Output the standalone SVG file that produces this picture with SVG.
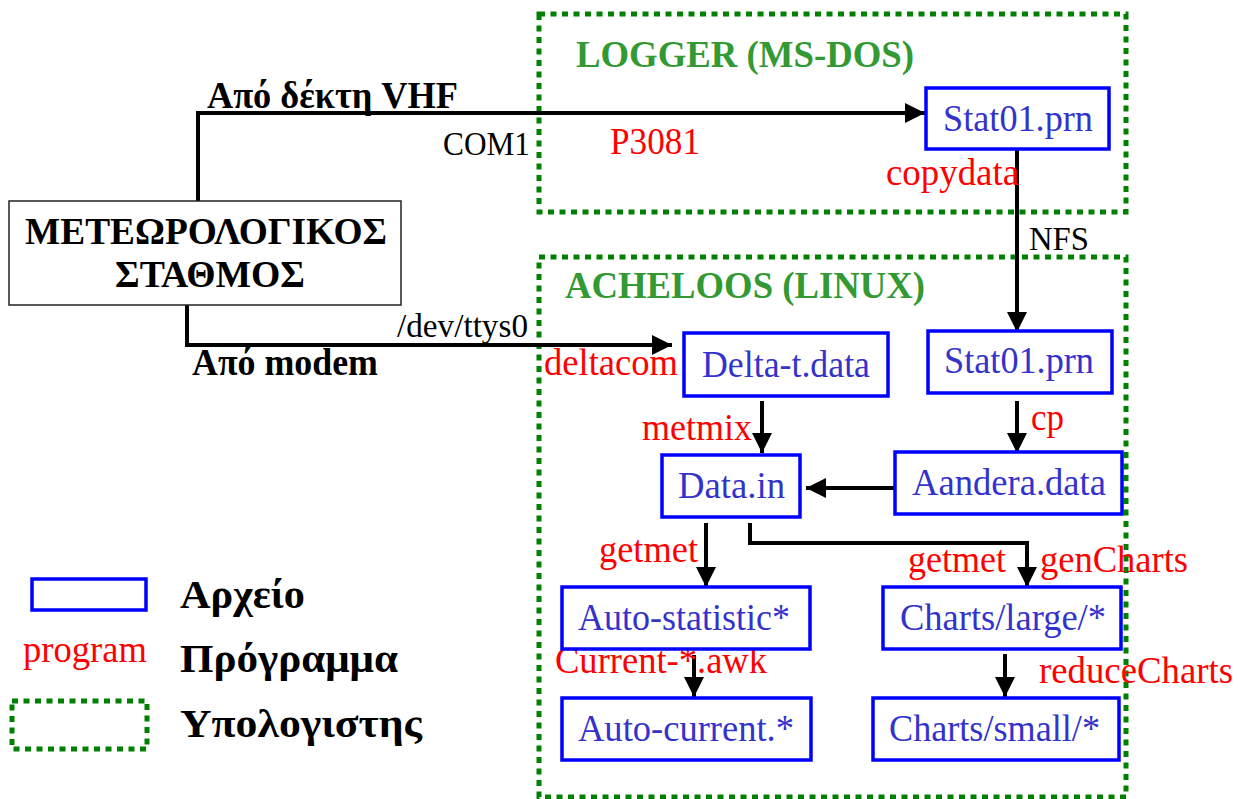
<svg xmlns="http://www.w3.org/2000/svg" width="1239" height="799" viewBox="0 0 1239 799">
<style>
  .t { font-family: "Liberation Serif", "Times New Roman", serif; font-size: 38px; }
  .b { font-weight: bold; fill: #000; }
  .file { fill: #3333cc; }
  .prog { fill: #ff0000; }
  .lab { fill: #000; font-size: 34px; }
  .comp { fill: #339933; font-weight: bold; }
  .fbox { fill: #fff; stroke: #0000ff; stroke-width: 3.5; }
  .cbox { fill: none; stroke: #008000; stroke-width: 5; stroke-dasharray: 6 5.5; }
  .conn { fill: none; stroke: #000; stroke-width: 4; }
  .arr { marker-end: url(#ah); }
</style>
<defs>
  <marker id="ah" markerUnits="userSpaceOnUse" markerWidth="20" markerHeight="20" refX="20" refY="10" orient="auto">
    <path d="M0,0 L20,10 L0,20 z" fill="#000"/>
  </marker>
</defs>
<rect width="1239" height="799" fill="#fff"/>

<g id="logger">
  <rect class="cbox" x="539" y="14" width="587" height="198"/>
  <text class="t comp" x="576" y="67" textLength="338" lengthAdjust="spacingAndGlyphs">LOGGER (MS-DOS)</text>
</g>
<g id="acheloos">
  <rect class="cbox" x="539" y="257" width="587" height="540"/>
  <text class="t comp" x="565" y="298" textLength="360" lengthAdjust="spacingAndGlyphs">ACHELOOS (LINUX)</text>
</g>

<g id="connectors">
  <polyline class="conn arr" points="198,201 198,113 925,113"/>
  <polyline class="conn arr" points="187,305 187,345 672,345"/>
  <line class="conn arr" x1="1017" y1="150" x2="1017" y2="332"/>
  <line class="conn arr" x1="762" y1="401" x2="762" y2="453"/>
  <line class="conn arr" x1="1017" y1="401" x2="1017" y2="453"/>
  <line class="conn arr" x1="895" y1="488" x2="806" y2="488"/>
  <line class="conn arr" x1="706" y1="523" x2="706" y2="587"/>
  <polyline class="conn arr" points="750,523 750,543 1027,543 1027,587"/>
  <line class="conn arr" x1="694" y1="655" x2="694" y2="697"/>
  <line class="conn arr" x1="1005" y1="654" x2="1005" y2="697"/>
</g>

<g id="station">
  <rect x="9" y="201" width="392" height="104" fill="#fff" stroke="#222" stroke-width="1.5"/>
  <text class="t b" x="25" y="244" textLength="362" lengthAdjust="spacingAndGlyphs">ΜΕΤΕΩΡΟΛΟΓΙΚΟΣ</text>
  <text class="t b" x="115" y="287" textLength="190" lengthAdjust="spacingAndGlyphs">ΣΤΑΘΜΟΣ</text>
</g>

<g id="labels">
  <text class="t b" x="207" y="108" textLength="251" lengthAdjust="spacingAndGlyphs">Από δέκτη VHF</text>
  <text class="t lab" x="443" y="155" textLength="87" lengthAdjust="spacingAndGlyphs">COM1</text>
  <text class="t prog" x="610" y="154" textLength="90" lengthAdjust="spacingAndGlyphs">P3081</text>
  <text class="t prog" x="886" y="185" textLength="133" lengthAdjust="spacingAndGlyphs">copydata</text>
  <text class="t lab" x="1029" y="250" textLength="60" lengthAdjust="spacingAndGlyphs">NFS</text>
  <text class="t lab" x="397" y="337" textLength="131" lengthAdjust="spacingAndGlyphs">/dev/ttys0</text>
  <text class="t b" x="192" y="375" textLength="186" lengthAdjust="spacingAndGlyphs">Από modem</text>
  <text class="t prog" x="544" y="375" textLength="134" lengthAdjust="spacingAndGlyphs">deltacom</text>
  <text class="t prog" x="642" y="440" textLength="110" lengthAdjust="spacingAndGlyphs">metmix</text>
  <text class="t prog" x="1031" y="430" textLength="33" lengthAdjust="spacingAndGlyphs">cp</text>
  <text class="t prog" x="599" y="562" textLength="99" lengthAdjust="spacingAndGlyphs">getmet</text>
  <text class="t prog" x="908" y="572" textLength="98" lengthAdjust="spacingAndGlyphs">getmet</text>
  <text class="t prog" x="1040" y="572" textLength="148" lengthAdjust="spacingAndGlyphs">genCharts</text>
  <text class="t prog" x="555" y="673" textLength="212" lengthAdjust="spacingAndGlyphs">Current-*.awk</text>
  <text class="t prog" x="1039" y="683" textLength="194" lengthAdjust="spacingAndGlyphs">reduceCharts</text>
</g>

<g id="stat01-logger">
  <rect class="fbox" x="926" y="88" width="183" height="61"/>
  <text class="t file" x="943" y="131" textLength="150" lengthAdjust="spacingAndGlyphs">Stat01.prn</text>
</g>
<g id="delta-t">
  <rect class="fbox" x="684" y="333" width="204" height="63"/>
  <text class="t file" x="702" y="377" textLength="168" lengthAdjust="spacingAndGlyphs">Delta-t.data</text>
</g>
<g id="stat01-acheloos">
  <rect class="fbox" x="928" y="331" width="184" height="62"/>
  <text class="t file" x="944" y="373" textLength="150" lengthAdjust="spacingAndGlyphs">Stat01.prn</text>
</g>
<g id="data-in">
  <rect class="fbox" x="662" y="455" width="138" height="62"/>
  <text class="t file" x="678" y="498" textLength="107" lengthAdjust="spacingAndGlyphs">Data.in</text>
</g>
<g id="aandera">
  <rect class="fbox" x="895" y="452" width="227" height="62"/>
  <text class="t file" x="912" y="495" textLength="194" lengthAdjust="spacingAndGlyphs">Aandera.data</text>
</g>
<g id="auto-statistic">
  <rect class="fbox" x="562" y="587" width="248" height="62"/>
  <text class="t file" x="578" y="630" textLength="212" lengthAdjust="spacingAndGlyphs">Auto-statistic*</text>
</g>
<g id="charts-large">
  <rect class="fbox" x="883" y="587" width="238" height="62"/>
  <text class="t file" x="900" y="630" textLength="206" lengthAdjust="spacingAndGlyphs">Charts/large/*</text>
</g>
<g id="auto-current">
  <rect class="fbox" x="562" y="698" width="249" height="62"/>
  <text class="t file" x="578" y="741" textLength="216" lengthAdjust="spacingAndGlyphs">Auto-current.*</text>
</g>
<g id="charts-small">
  <rect class="fbox" x="873" y="698" width="246" height="62"/>
  <text class="t file" x="889" y="741" textLength="211" lengthAdjust="spacingAndGlyphs">Charts/small/*</text>
</g>

<g id="legend">
  <rect class="fbox" x="32" y="579" width="114" height="31"/>
  <text class="t b" x="180" y="608" style="font-size:40px" textLength="125" lengthAdjust="spacingAndGlyphs">Αρχείο</text>
  <text class="t prog" x="23" y="662" textLength="124" lengthAdjust="spacingAndGlyphs">program</text>
  <text class="t b" x="180" y="672" style="font-size:40px" textLength="218" lengthAdjust="spacingAndGlyphs">Πρόγραμμα</text>
  <rect class="cbox" x="12" y="701" width="135" height="48"/>
  <text class="t b" x="180" y="737" style="font-size:40px" textLength="242" lengthAdjust="spacingAndGlyphs">Υπολογιστης</text>
</g>
</svg>
